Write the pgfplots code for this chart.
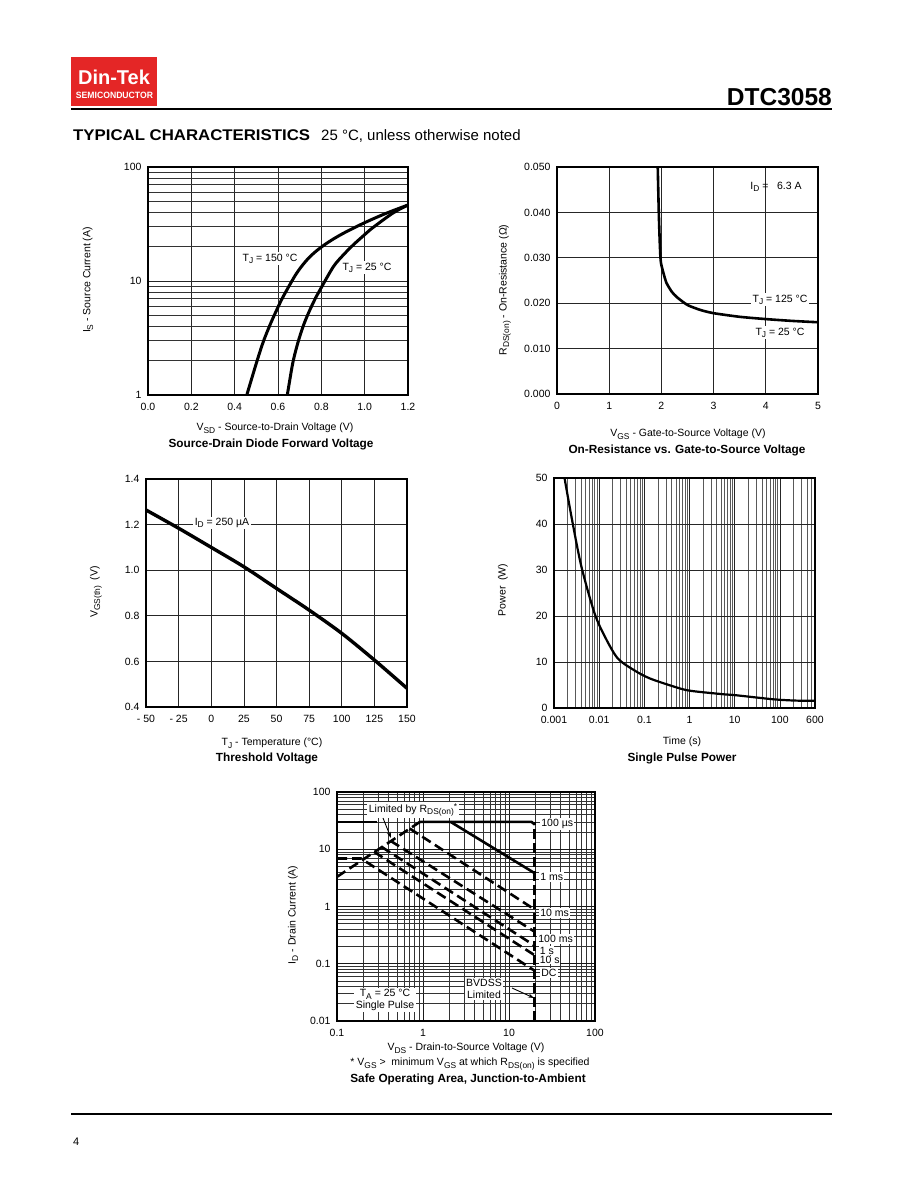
\documentclass[border=0pt]{standalone}
\usepackage{fontspec}
\setmainfont{Liberation Sans}
\usepackage{pgfplots}
\pgfplotsset{compat=1.18}
\usetikzlibrary{arrows.meta}
\definecolor{logored}{RGB}{228,38,38}
\newcommand{\sub}[1]{\raisebox{-2.6pt}{\fontsize{8.4}{9}\selectfont #1}}
\newcommand{\sups}[1]{\raisebox{2.8pt}{\fontsize{8.4}{9}\selectfont #1}}

\pgfplotsset{
  dsbase/.style={
    scale only axis,
    anchor=south west,
    axis line style={line width=1.2pt},
    major tick length=0pt, minor tick length=0pt,
    tick style={draw=none},
    grid=both,
    major grid style={line width=0.7pt, black!85},
    minor grid style={line width=0.7pt, black!80},
    tick label style={font=\fontsize{10.5}{12}\selectfont},
    xticklabel style={yshift=-5pt},
    yticklabel style={xshift=-3pt},
    /pgf/number format/assume math mode=true,
    clip=true,
  },
  thickcurve/.style={black, line width=3pt, no marks, line join=round},
}

\pgfplotstableread{
v i
0.456 1.0
0.500 1.9
0.532 2.93
0.565 4.2
0.594 5.57
0.624 7.3
0.686 11.7
0.740 15.8
0.793 19.4
0.850 23.0
0.916 27.1
1.008 33.0
1.100 39.3
1.200 46.4
}\diodeHot

\pgfplotstableread{
v i
0.643 1.0
0.668 1.9
0.693 2.93
0.720 4.2
0.747 5.57
0.775 7.2
0.793 8.3
0.855 13.3
0.900 16.8
0.947 20.7
1.000 25.5
1.039 29.5
1.131 39.5
1.200 46.4
}\diodeCold

\pgfplotstableread{
v r
1.930 0.0500
1.950 0.0400
1.970 0.0330
1.990 0.0290
2.050 0.0262
2.100 0.0244
2.200 0.0225
2.300 0.0213
2.500 0.0196
2.750 0.0185
3.000 0.0178
3.500 0.0170
4.000 0.0165
4.500 0.0161
5.000 0.0158
}\rdson

\pgfplotstableread{
t v
-50 1.264
-25 1.184
0 1.100
25 1.015
50 0.920
75 0.825
100 0.723
125 0.606
150 0.482
}\vth

\pgfplotstableread{
t p
0.00171 50.0
0.00251 40.9
0.00405 30.7
0.0079 20.6
0.0134 15.5
0.0257 10.8
0.0584 8.26
0.1306 6.45
0.456 4.64
1.0 3.77
4.94 3.04
11.2 2.75
72 1.89
241 1.60
600 1.60
}\pulse

\begin{document}
\begin{tikzpicture}[x=1pt,y=1pt]
\fill[white] (0,0) rectangle (920,1191);
\path[use as bounding box] (0,0) rectangle (920,1191);

% ---------- header ----------
\fill[logored] (71,1085) rectangle (157,1134);
\node[white, font=\bfseries\fontsize{20}{21}\selectfont] at (114,1113.5) {Din-Tek};
\node[white, font=\bfseries\fontsize{8.3}{9}\selectfont] at (114.5,1095.3) {\scalebox{1.04}[1.1]{SEMICONDUCTOR}};
\node[anchor=base east, font=\bfseries\fontsize{24.5}{26}\selectfont, inner sep=0pt] at (832,1085.5) {DTC3058};
\draw[line width=2.2pt] (71,1082) -- (832,1082);
\node[anchor=base west, font=\bfseries\fontsize{16.3}{18}\selectfont, inner sep=0pt] at (73,1050) {\scalebox{1.03}[0.95]{TYPICAL CHARACTERISTICS}};
\node[anchor=base west, font=\fontsize{15}{17}\selectfont, inner sep=0pt] at (321,1050) {25 °C, unless otherwise noted};

% ---------- footer ----------
\draw[line width=1.5pt] (71,77) -- (832,77);
\node[anchor=base west, font=\fontsize{11}{12}\selectfont, inner sep=0pt] at (73,45) {4};

% ---------- Chart 1: diode forward ----------
\begin{axis}[dsbase, at={(148pt,796pt)}, width=260pt, height=228pt,
  xmin=0, xmax=1.2, ymode=log, ymin=1, ymax=100,
  xtick={0,0.2,0.4,0.6,0.8,1.0,1.2},
  xticklabel style={/pgf/number format/.cd, fixed, fixed zerofill, precision=1},
  ytick={1,10,100}, yticklabels={1,10,100},
  minor ytick={2,3,4,5,6,7,8,9,20,30,40,50,60,70,80,90},
]
\addplot[thickcurve, smooth] table[x=v,y=i] {\diodeHot};
\addplot[thickcurve, smooth] table[x=v,y=i] {\diodeCold};
\end{axis}
\node[fill=white, inner sep=1.5pt, font=\fontsize{10.5}{12}\selectfont] at (270,932) {T\sub{J} = 150 °C};
\node[fill=white, inner sep=1.5pt, font=\fontsize{10.5}{12}\selectfont] at (367,923) {T\sub{J} = 25 °C};
\node[rotate=90, font=\fontsize{10.5}{12}\selectfont] at (88,911) {I\sub{S} - Source Current (A)};
\node[anchor=base, font=\fontsize{10.5}{12}\selectfont] at (275,760) {V\sub{SD} - Source-to-Drain Voltage (V)};
\node[anchor=base, font=\bfseries\fontsize{11.8}{13}\selectfont] at (271,743) {Source-Drain Diode Forward Voltage};

% ---------- Chart 2: RDS(on) vs VGS ----------
\begin{axis}[dsbase, at={(557pt,797pt)}, width=261pt, height=227pt,
  xmin=0, xmax=5, ymin=0, ymax=0.05,
  xtick={0,1,2,3,4,5},
  ytick={0,0.01,0.02,0.03,0.04,0.05},
  scaled y ticks=false,
  yticklabel style={/pgf/number format/.cd, fixed, fixed zerofill, precision=3},
]
\addplot[black, line width=2.6pt, no marks, smooth, tension=0.4] table[x=v,y=r] {\rdson};
\end{axis}
\node[font=\fontsize{10.5}{12}\selectfont] at (776,1004) {I\sub{D} = \ \ 6.3 A};
\node[fill=white, inner sep=1.5pt, font=\fontsize{10.5}{12}\selectfont] at (780,891) {T\sub{J} = 125 °C};
\node[fill=white, inner sep=1.5pt, font=\fontsize{10.5}{12}\selectfont] at (780,858) {T\sub{J} = 25 °C};
\node[rotate=90, font=\fontsize{10.5}{12}\selectfont] at (505,901) {R\sub{DS(on)} - On-Resistance (Ω)};
\node[anchor=base, font=\fontsize{10.5}{12}\selectfont] at (688,754) {V\sub{GS} - Gate-to-Source Voltage (V)};
\node[anchor=base, font=\bfseries\fontsize{11.8}{13}\selectfont] at (687,737) {On-Resistance vs. Gate-to-Source Voltage};

% ---------- Chart 3: threshold voltage ----------
\begin{axis}[dsbase, at={(146pt,484pt)}, width=261pt, height=228pt,
  xmin=-50, xmax=150, ymin=0.4, ymax=1.4,
  xtick={-50,-25,0,25,50,75,100,125,150},
  xticklabels={- 50,- 25,0,25,50,75,100,125,150},
  ytick={0.4,0.6,0.8,1.0,1.2,1.4},
  yticklabel style={/pgf/number format/.cd, fixed, fixed zerofill, precision=1},
]
\addplot[black, line width=3.4pt, no marks, smooth] table[x=t,y=v] {\vth};
\end{axis}
\node[fill=white, inner sep=1.5pt, font=\fontsize{10.5}{12}\selectfont] at (222,668) {I\sub{D} = 250 µA};
\node[rotate=90, font=\fontsize{10.5}{12}\selectfont] at (96,599) {V\sub{GS(th)}\ \ (V)};
\node[anchor=base, font=\fontsize{10.5}{12}\selectfont] at (272,445) {T\sub{J} - Temperature (°C)};
\node[anchor=base, font=\bfseries\fontsize{11.8}{13}\selectfont] at (267,429) {Threshold Voltage};

% ---------- Chart 4: single pulse power ----------
\begin{axis}[dsbase, at={(554pt,483pt)}, width=261pt, height=230pt,
  xmode=log, xmin=0.001, xmax=600, ymin=0, ymax=50,
  xtick={0.001,0.01,0.1,1,10,100,600},
  xticklabels={0.001,0.01,0.1,1,10,100,600},
  minor xtick={0.002,0.003,0.004,0.005,0.006,0.007,0.008,0.009,0.02,0.03,0.04,0.05,0.06,0.07,0.08,0.09,0.2,0.3,0.4,0.5,0.6,0.7,0.8,0.9,2,3,4,5,6,7,8,9,20,30,40,50,60,70,80,90,200,300,400,500},
  ytick={0,10,20,30,40,50},
  major grid style={line width=0.7pt, black!85},
  minor grid style={line width=0.6pt, black!65},
]
\addplot[black, line width=2.2pt, no marks, smooth] table[x=t,y=p] {\pulse};
\end{axis}
\node[rotate=90, font=\fontsize{10.5}{12}\selectfont] at (503,601) {Power\ \ (W)};
\node[anchor=base, font=\fontsize{10.5}{12}\selectfont] at (682,446) {Time (s)};
\node[anchor=base, font=\bfseries\fontsize{11.8}{13}\selectfont] at (682,429) {Single Pulse Power};

% ---------- Chart 5: SOA ----------
\begin{axis}[dsbase, at={(337pt,170pt)}, width=258pt, height=229pt,
  xmode=log, ymode=log, xmin=0.1, xmax=100, ymin=0.01, ymax=100,
  xtick={0.1,1,10,100}, xticklabels={0.1,1,10,100},
  ytick={0.01,0.1,1,10,100}, yticklabels={0.01,0.1,1,10,100},
  minor xtick={0.2,0.3,0.4,0.5,0.6,0.7,0.8,0.9,2,3,4,5,6,7,8,9,20,30,40,50,60,70,80,90},
  minor ytick={0.02,0.03,0.04,0.05,0.06,0.07,0.08,0.09,0.2,0.3,0.4,0.5,0.6,0.7,0.8,0.9,2,3,4,5,6,7,8,9,20,30,40,50,60,70,80,90},
  major grid style={line width=0.7pt, black!90},
  minor grid style={line width=0.6pt, black!80},
]
% 100 us (solid, current limit)
\addplot[black, line width=2.6pt, no marks] coordinates {(0.1,30) (0.29,30)};
\addplot[black, line width=2.6pt, no marks] coordinates {(0.92,30) (18.3,30) (20,27)};
% 1 ms (solid)
\addplot[black, line width=2.6pt, no marks] coordinates {(2.1,30) (20,3.8)};
% RDS(on) limit
\addplot[black, line width=2.6pt, no marks, dash pattern=on 10pt off 5pt] coordinates {(0.1,3.3) (0.92,30)};
% 10 ms
\addplot[black, line width=2.6pt, no marks, dash pattern=on 10pt off 5pt] coordinates {(0.70,23) (20,0.88)};
% 100 ms
\addplot[black, line width=2.6pt, no marks, dash pattern=on 10pt off 5pt] coordinates {(0.42,14) (20,0.36)};
% 1 s
\addplot[black, line width=2.6pt, no marks, dash pattern=on 10pt off 5pt] coordinates {(0.33,11) (20,0.205)};
% 10 s
\addplot[black, line width=2.6pt, no marks, dash pattern=on 10pt off 5pt] coordinates {(0.27,9) (20,0.14)};
% DC
\addplot[black, line width=2.6pt, no marks, dash pattern=on 10pt off 5pt] coordinates {(0.1,6.9) (0.19,6.9) (20,0.075)};
% BVDSS limit
\addplot[black, line width=3pt, no marks, dash pattern=on 10pt off 4pt] coordinates {(20,0.01) (20,30)};
\end{axis}
\node[fill=white, inner sep=1.5pt, font=\fontsize{10.5}{12}\selectfont] at (413,381) {Limited by R\sub{DS(on)}\sups{*}};
\draw[line width=0.9pt, -{Stealth[length=6pt,width=4pt]}] (383,373) -- (391,353);
\node[anchor=west, fill=white, inner sep=1.2pt, font=\fontsize{10.5}{12}\selectfont] at (540,367) {100 µs};
\node[anchor=west, fill=white, inner sep=1.2pt, font=\fontsize{10.5}{12}\selectfont] at (539,314) {1 ms};
\node[anchor=west, fill=white, inner sep=1.2pt, font=\fontsize{10.5}{12}\selectfont] at (539,278) {10 ms};
\node[anchor=west, fill=white, inner sep=1.2pt, font=\fontsize{10.5}{12}\selectfont] at (537,252) {100 ms};
\node[anchor=west, fill=white, inner sep=0.6pt, font=\fontsize{10.5}{12}\selectfont] at (539,240.5) {1 s};
\node[anchor=west, fill=white, inner sep=0.6pt, font=\fontsize{10.5}{12}\selectfont] at (539,231) {10 s};
\node[anchor=west, fill=white, inner sep=1.2pt, font=\fontsize{10.5}{12}\selectfont] at (540,218) {DC};
\node[fill=white, inner sep=1.5pt, align=center, font=\fontsize{10.5}{12}\selectfont] at (484,202) {BVDSS\\Limited};
\draw[line width=0.9pt, -{Stealth[length=6pt,width=4pt]}] (512,203) -- (534,193);
\node[fill=white, inner sep=1.5pt, align=center, font=\fontsize{10.5}{12}\selectfont] at (385,191) {T\sub{A} = 25 °C\\Single Pulse};
\node[rotate=90, font=\fontsize{10.5}{12}\selectfont] at (293,276) {I\sub{D} - Drain Current (A)};
\node[anchor=base, font=\fontsize{10.5}{12}\selectfont] at (466,140) {V\sub{DS} - Drain-to-Source Voltage (V)};
\node[anchor=base, font=\fontsize{10.5}{12}\selectfont] at (470,125) {* V\sub{GS} > \ minimum V\sub{GS} at which R\sub{DS(on)} is specified};
\node[anchor=base, font=\bfseries\fontsize{11.8}{13}\selectfont] at (468,108) {Safe Operating Area, Junction-to-Ambient};
\end{tikzpicture}
\end{document}
